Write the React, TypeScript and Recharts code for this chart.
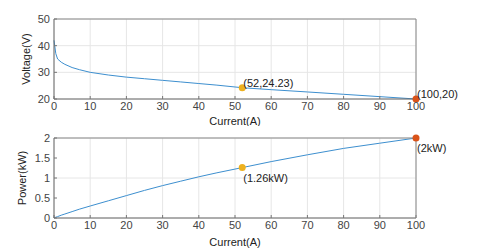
import { CartesianGrid, ComposedChart, LabelList, Line, Scatter, XAxis, YAxis } from 'recharts';

const current = [0, 0.5, 1, 2, 3, 5, 7, 10, 15, 20, 25, 30, 35, 40, 45, 52, 60, 70, 80, 90, 100];
const voltage = [42, 37, 35, 33.8, 33, 31.8, 31, 30, 29, 28.2, 27.6, 27, 26.4, 25.8, 25.2, 24.23, 23.5, 22.64, 21.76, 20.88, 20];
const power = [0, 0.02, 0.035, 0.07, 0.1, 0.16, 0.22, 0.3, 0.43, 0.56, 0.69, 0.81, 0.92, 1.03, 1.13, 1.26, 1.41, 1.58, 1.74, 1.87, 2];

const xTicks = [0, 10, 20, 30, 40, 50, 60, 70, 80, 90, 100];
const vTicks = [20, 30, 40, 50];
const pTicks = [0, 0.5, 1, 1.5, 2];

const vMarkers = [
  { x: 52, y: 24.23, label: '(52,24.23)', color: '#EDB120' },
  { x: 100, y: 20, label: '(100,20)', color: '#D95319' },
];
const pMarkers = [
  { x: 52, y: 1.26, label: '(1.26kW)', color: '#EDB120' },
  { x: 100, y: 2, label: '(2kW)', color: '#D95319' },
];

const vData = current.map((c, i) => ({ x: c, y: voltage[i] }));
const pData = current.map((c, i) => ({ x: c, y: power[i] }));

const font = 'Liberation Sans, Arial, sans-serif';
const tickStyle = { fontSize: 11, fill: '#444', fontFamily: font };
const lineColor = '#3d8fcf';

const MarkerDot = (props: any) => {
  const { cx, cy, payload } = props;
  return <circle cx={cx} cy={cy} r={3.5} fill={payload.color} />;
};

const Panel = ({ data, markers, domain, ticks, yLabel, yLabelOffset, height, top, bottom, labelOffset, labelBelow }: any) => (
  <ComposedChart width={479} height={height} margin={{ top, right: 62, bottom: 0, left: 0 }}>
    <CartesianGrid stroke="#e6e6e6" xAxisId="x" yAxisId="y" />
    <XAxis
      xAxisId="x"
      dataKey="x"
      type="number"
      domain={[0, 100]}
      ticks={xTicks}
      height={bottom}
      tick={tickStyle}
      tickSize={-3}
      tickLine={{ stroke: '#777' }}
      axisLine={{ stroke: '#666' }}
      tickMargin={6}
      label={{ value: 'Current(A)', position: 'insideBottom', offset: labelOffset, fontSize: 11, fill: '#222', fontFamily: font }}
    />
    <XAxis
      xAxisId="top"
      orientation="top"
      type="number"
      domain={[0, 100]}
      ticks={xTicks}
      height={1}
      tick={false}
      tickSize={-3}
      tickLine={{ stroke: '#777' }}
      axisLine={{ stroke: '#888' }}
    />
    <YAxis
      yAxisId="y"
      type="number"
      domain={domain}
      ticks={ticks}
      width={54}
      tick={tickStyle}
      tickSize={-3}
      tickLine={{ stroke: '#777' }}
      axisLine={{ stroke: '#666' }}
      tickMargin={7}
      label={{ value: yLabel, angle: -90, position: 'insideLeft', offset: yLabelOffset, style: { textAnchor: 'middle' }, fontSize: 11, fill: '#222', fontFamily: font }}
    />
    <YAxis
      yAxisId="right"
      orientation="right"
      type="number"
      domain={domain}
      ticks={ticks}
      width={1}
      tick={false}
      tickSize={-3}
      tickLine={{ stroke: '#777' }}
      axisLine={{ stroke: '#888' }}
    />
    <Line
      xAxisId="x"
      yAxisId="y"
      data={data}
      dataKey="y"
      type="linear"
      stroke={lineColor}
      strokeWidth={1}
      dot={false}
      isAnimationActive={false}
    />
    <Scatter xAxisId="x" yAxisId="y" data={markers} dataKey="y" shape={MarkerDot} isAnimationActive={false}>
      <LabelList
        dataKey="label"
        content={(p: any) => (
          <text
            x={p.x + p.width / 2 + 1}
            y={labelBelow ? p.y + p.height / 2 + 14 : p.y + p.height / 2 - 1}
            fontSize={11}
            fill="#222"
            fontFamily={font}
          >
            {p.value}
          </text>
        )}
      />
    </Scatter>
  </ComposedChart>
);

export default function App() {
  return (
    <div style={{ position: 'absolute', left: 0, top: 0, width: 479, height: 252, background: '#fff' }}>
      <div style={{ position: 'absolute', left: 0, top: 0 }}>
        <Panel data={vData} markers={vMarkers} domain={[20, 50]} ticks={vTicks} yLabel="Voltage(V)" yLabelOffset={26} height={126} top={18} bottom={27} labelOffset={1} labelBelow={false} />
      </div>
      <div style={{ position: 'absolute', left: 0, top: 126 }}>
        <Panel data={pData} markers={pMarkers} domain={[0, 2]} ticks={pTicks} yLabel="Power(kW)" yLabelOffset={22} height={126} top={11} bottom={34} labelOffset={6} labelBelow={true} />
      </div>
    </div>
  );
}
